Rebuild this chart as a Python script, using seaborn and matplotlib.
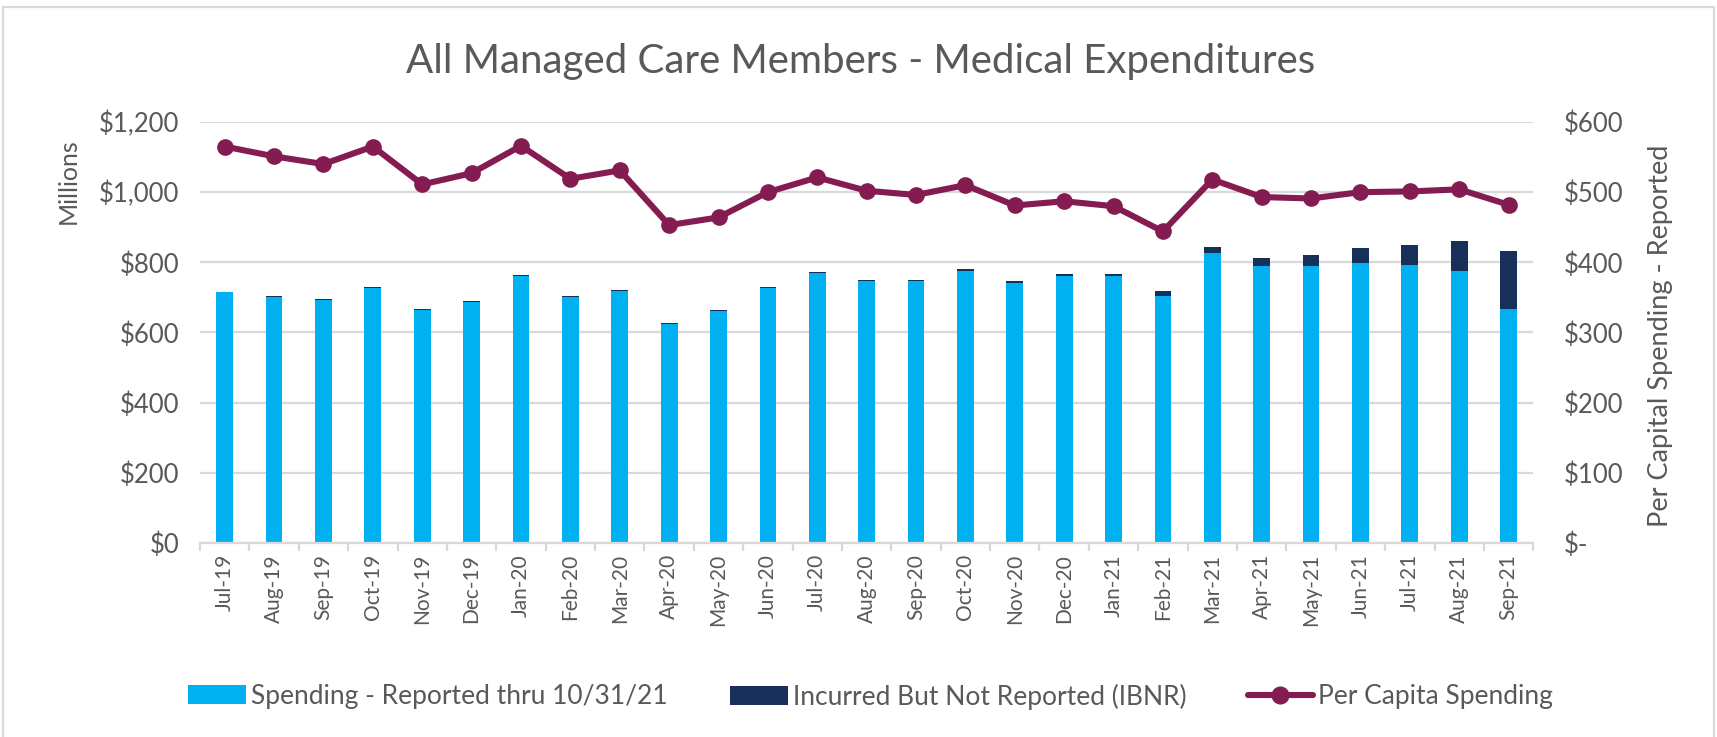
import matplotlib
matplotlib.use("Agg")
import matplotlib.pyplot as plt
import seaborn as sns
import numpy as np
import pandas as pd
from matplotlib.patches import Patch, Rectangle
from matplotlib.lines import Line2D
from matplotlib.ticker import FuncFormatter, MultipleLocator

months = [
    "Jul-19", "Aug-19", "Sep-19", "Oct-19", "Nov-19", "Dec-19",
    "Jan-20", "Feb-20", "Mar-20", "Apr-20", "May-20", "Jun-20",
    "Jul-20", "Aug-20", "Sep-20", "Oct-20", "Nov-20", "Dec-20",
    "Jan-21", "Feb-21", "Mar-21", "Apr-21", "May-21", "Jun-21",
    "Jul-21", "Aug-21", "Sep-21",
]
# millions of dollars
reported = [714, 700, 692, 726, 663, 687, 761, 700, 718, 623, 662, 726,
            769, 747, 747, 775, 740, 761, 761, 705, 827, 790, 790, 798,
            793, 776, 666]
ibnr = [0, 4, 4, 4, 3, 4, 4, 4, 4, 4, 3, 4,
        4, 4, 4, 5, 7, 7, 7, 12, 18, 21, 30, 44,
        56, 86, 166]
# dollars per member
per_capita = [565, 551, 540, 565, 511, 527, 566, 519, 531, 453, 464, 500,
              521, 502, 496, 510, 481, 487, 480, 444, 518, 493, 491, 500,
              501, 504, 482]

light_blue = "#00B0F0"
navy = "#17305A"
maroon = "#841C52"
grid_grey = "#D9D9D9"
text_grey = "#595959"

df = pd.DataFrame({
    "month": months,
    "reported": reported,
    "total": np.array(reported) + np.array(ibnr),
    "per_capita": per_capita,
})
df["pos"] = range(len(df))

sns.set_theme(style="white")
plt.rcParams["font.family"] = ["Lato", "DejaVu Sans"]

fig = plt.figure(figsize=(17.17, 7.37), dpi=100)
ax = fig.add_axes([0.1165, 0.2632, 0.7765, 0.5713])

# stacked bars: total (dark) underneath, reported (blue) over it
sns.barplot(data=df, x="month", y="total", color=navy, width=0.34,
            saturation=1, linewidth=0, ax=ax)
sns.barplot(data=df, x="month", y="reported", color=light_blue, width=0.34,
            saturation=1, linewidth=0, ax=ax)

ax.set_ylim(0, 1200)
ax.set_xlim(-0.5, len(months) - 0.5)
ax.yaxis.set_major_locator(MultipleLocator(200))
ax.yaxis.set_major_formatter(FuncFormatter(lambda v, p: f"${v:,.0f}"))
ax.set_axisbelow(True)
ax.grid(axis="y", color=grid_grey, linewidth=1.6)
ax.grid(axis="x", visible=False)
for side in ["top", "left", "right"]:
    ax.spines[side].set_visible(False)
ax.spines["bottom"].set_color(grid_grey)
ax.spines["bottom"].set_linewidth(1.6)
ax.set_xticks(range(len(months)))
ax.set_xticklabels(months, rotation=90)
ax.set_xticks(np.arange(-0.5, len(months)), minor=True)
ax.tick_params(axis="x", which="major", length=0, pad=8, labelsize=15, labelcolor=text_grey)
ax.tick_params(axis="x", which="minor", length=6, width=1.6, color=grid_grey, bottom=True)
ax.tick_params(axis="y", length=0, pad=15, labelsize=18.5, labelcolor=text_grey)
ax.set_xlabel("")
ax.set_ylabel("")

ax2 = ax.twinx()
sns.lineplot(data=df, x="pos", y="per_capita", color=maroon, linewidth=4.4,
             marker="o", markersize=12, markeredgewidth=0, ax=ax2)
ax2.set_ylim(0, 600)
ax2.set_xlim(-0.5, len(months) - 0.5)
ax2.yaxis.set_major_locator(MultipleLocator(100))
ax2.yaxis.set_major_formatter(FuncFormatter(lambda v, p: "$-" if v == 0 else f"${v:,.0f}"))
ax2.tick_params(axis="y", length=0, pad=22, labelsize=18.5, labelcolor=text_grey)
ax2.grid(False)
for side in ["top", "left", "right", "bottom"]:
    ax2.spines[side].set_visible(False)
ax2.set_xlabel("")
ax2.set_ylabel("")

fig.text(0.5015, 0.916, "All Managed Care Members - Medical Expenditures",
         ha="center", va="center", fontsize=29, color=text_grey)
fig.text(0.0396, 0.754, "Millions", rotation=90, ha="center", va="center",
         fontsize=18, color=text_grey)
fig.text(0.967, 0.545, "Per Capital Spending - Reported", rotation=90,
         ha="center", va="center", fontsize=19.5, color=text_grey)

entries = [
    (Patch(facecolor=light_blue, edgecolor="none"), "Spending - Reported thru 10/31/21", 0.1095, 2.2),
    (Patch(facecolor=navy, edgecolor="none"), "Incurred But Not Reported (IBNR)", 0.4252, 2.2),
    (Line2D([0], [0], color=maroon, linewidth=4.4, marker="o", markersize=12),
     "Per Capita Spending", 0.7268, 2.45),
]
for handle, label, x0, hlen in entries:
    leg = fig.legend([handle], [label], loc="center left", bbox_to_anchor=(x0, 0.055),
                     frameon=False, fontsize=19, handlelength=hlen, handleheight=0.7,
                     handletextpad=0.2, borderpad=0, borderaxespad=0)
    for t in leg.get_texts():
        t.set_color(text_grey)

fig.patches.append(Rectangle((3 / 1717, -0.02), 1711 / 1717, 1.02 - 7 / 737,
                             transform=fig.transFigure, fill=False,
                             edgecolor=grid_grey, linewidth=1.6))

fig.savefig("out.png", dpi=100, facecolor="white")
